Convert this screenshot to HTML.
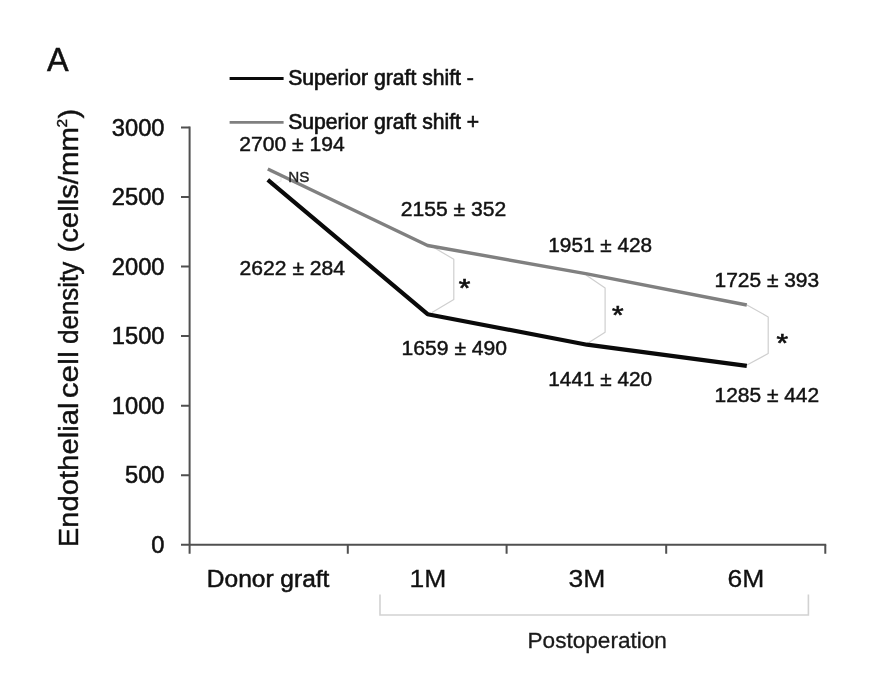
<!DOCTYPE html>
<html lang="en">
<head>
<meta charset="utf-8">
<title>Endothelial cell density</title>
<style>
html,body{margin:0;padding:0;background:#fff;}
body{width:872px;height:674px;overflow:hidden;font-family:"Liberation Sans",sans-serif;}
svg{display:block;filter:blur(0.55px);}
text{font-family:"Liberation Sans",sans-serif;fill:#111;}
.ax{font-size:23.7px;fill:#111;stroke:#111;stroke-width:0.55px;}
.cat{font-size:24.5px;fill:#111;stroke:#111;stroke-width:0.55px;}
.val{font-size:21.1px;fill:#1a1a1a;stroke:#1a1a1a;stroke-width:0.5px;}
.leg{font-size:21.15px;fill:#111;stroke:#111;stroke-width:0.65px;}
</style>
</head>
<body>
<svg width="872" height="674" viewBox="0 0 872 674">
<rect x="0" y="0" width="872" height="674" fill="#ffffff"/>

<!-- panel letter -->
<text x="46.9" y="70.5" style="font-size:32.4px;stroke:#111;stroke-width:0.5px">A</text>

<!-- y axis title -->
<g style="font-size:28.55px;stroke:#111;stroke-width:0.4px">
<text transform="translate(78.2,547.2) rotate(-90)" textLength="144.6" lengthAdjust="spacingAndGlyphs">Endothelial</text>
<text transform="translate(78.2,398.3) rotate(-90)" textLength="47.3" lengthAdjust="spacingAndGlyphs">cell</text>
<text transform="translate(78.2,344) rotate(-90)" textLength="82.3" lengthAdjust="spacingAndGlyphs">density</text>
<text transform="translate(78.2,252.6) rotate(-90)" textLength="125.5" lengthAdjust="spacingAndGlyphs">(cells/mm</text>
<text transform="translate(67,127.6) rotate(-90)" style="font-size:15.5px">2</text>
<text transform="translate(78.2,118.4) rotate(-90)">)</text>
</g>

<!-- axes -->
<g stroke="#505050" stroke-width="2" fill="none">
<path d="M189.6 126.6 V545"/>
<path d="M181 544.8 H826.2"/>
<path d="M181 127.5 H189.6 M181 197 H189.6 M181 266.6 H189.6 M181 336.1 H189.6 M181 405.7 H189.6 M181 475.2 H189.6"/>
<path d="M189.6 544.8 V553.7 M347.8 544.8 V553.7 M506.6 544.8 V553.7 M666.2 544.8 V553.7 M825.3 544.8 V553.7"/>
</g>

<!-- y tick labels -->
<g class="ax" text-anchor="end">
<text x="164.5" y="135.7">3000</text>
<text x="164.5" y="205.2">2500</text>
<text x="164.5" y="274.7">2000</text>
<text x="164.5" y="344.3">1500</text>
<text x="164.5" y="413.8">1000</text>
<text x="164.5" y="483.4">500</text>
<text x="164.5" y="552.9">0</text>
</g>

<!-- category labels -->
<g class="cat" text-anchor="middle">
<text x="268.1" y="587">Donor graft</text>
<text x="428.0" y="587" textLength="36.8" lengthAdjust="spacingAndGlyphs" style="stroke-width:0.3px">1M</text>
<text x="587.0" y="587" textLength="36.8" lengthAdjust="spacingAndGlyphs" style="stroke-width:0.3px">3M</text>
<text x="746.0" y="587" textLength="36.8" lengthAdjust="spacingAndGlyphs" style="stroke-width:0.3px">6M</text>
</g>

<!-- postoperation bracket -->
<path d="M380 594.6 V615 H808.4 V594.6" stroke="#d2d2d2" stroke-width="1.6" fill="none"/>
<text x="597.2" y="648.3" text-anchor="middle" style="font-size:22.1px;fill:#1a1a1a;stroke:#1a1a1a;stroke-width:0.3px" textLength="139.4" lengthAdjust="spacingAndGlyphs">Postoperation</text>

<!-- significance brackets -->
<g stroke="#cfcfcf" stroke-width="1.2" fill="none" stroke-linejoin="round">
<path d="M433 247 L453.8 259.3 V299.5 L432 312.5"/>
<path d="M586 275 L605.1 288 V332.2 L588.9 342.6"/>
<path d="M747 305 L768.2 316.9 V353.5 L747 365"/>
<path d="M270 172 L281 176 V181 L270 186" stroke="#ececec"/>
</g>

<!-- series -->
<polyline points="267.8,169.0 427.6,245.5 587,273.8 746.8,305" fill="none" stroke="#808080" stroke-width="3.4" stroke-linejoin="round"/>
<polyline points="267.8,179.8 427.6,314.2 587,344.7 746.8,365.8" fill="none" stroke="#0a0a0a" stroke-width="4.2" stroke-linejoin="round"/>

<!-- legend -->
<path d="M229.6 78.4 H283.6" stroke="#0a0a0a" stroke-width="3.0"/>
<path d="M229.6 122.4 H283.6" stroke="#808080" stroke-width="2.8"/>
<text class="leg" x="288.2" y="85.4">Superior graft shift -</text>
<text class="leg" x="288.2" y="129.4">Superior graft shift +</text>

<!-- value labels -->
<g class="val">
<text x="239.3" y="151.2">2700 ± 194</text>
<text x="239.6" y="274.5">2622 ± 284</text>
<text x="400.8" y="215.9">2155 ± 352</text>
<text x="401.6" y="354.6">1659 ± 490</text>
<text x="548.3" y="252.1" style="font-size:20.75px">1951 ± 428</text>
<text x="548.3" y="386.2" style="font-size:20.75px">1441 ± 420</text>
<text x="714.5" y="286.7" style="font-size:20.95px">1725 ± 393</text>
<text x="714.5" y="401.5" style="font-size:20.95px">1285 ± 442</text>
</g>
<text x="288.3" y="182.2" style="font-size:15.2px;fill:#222;stroke:#222;stroke-width:0.4px">NS</text>

<!-- asterisks -->
<g style="font-size:27px;stroke:#111;stroke-width:0.7px" text-anchor="middle">
<text transform="translate(464.6,296.5) scale(1.1,0.96)">*</text>
<text transform="translate(617.8,324.3) scale(1.1,0.96)">*</text>
<text transform="translate(782.3,351.7) scale(1.1,0.96)">*</text>
</g>
</svg>
</body>
</html>
